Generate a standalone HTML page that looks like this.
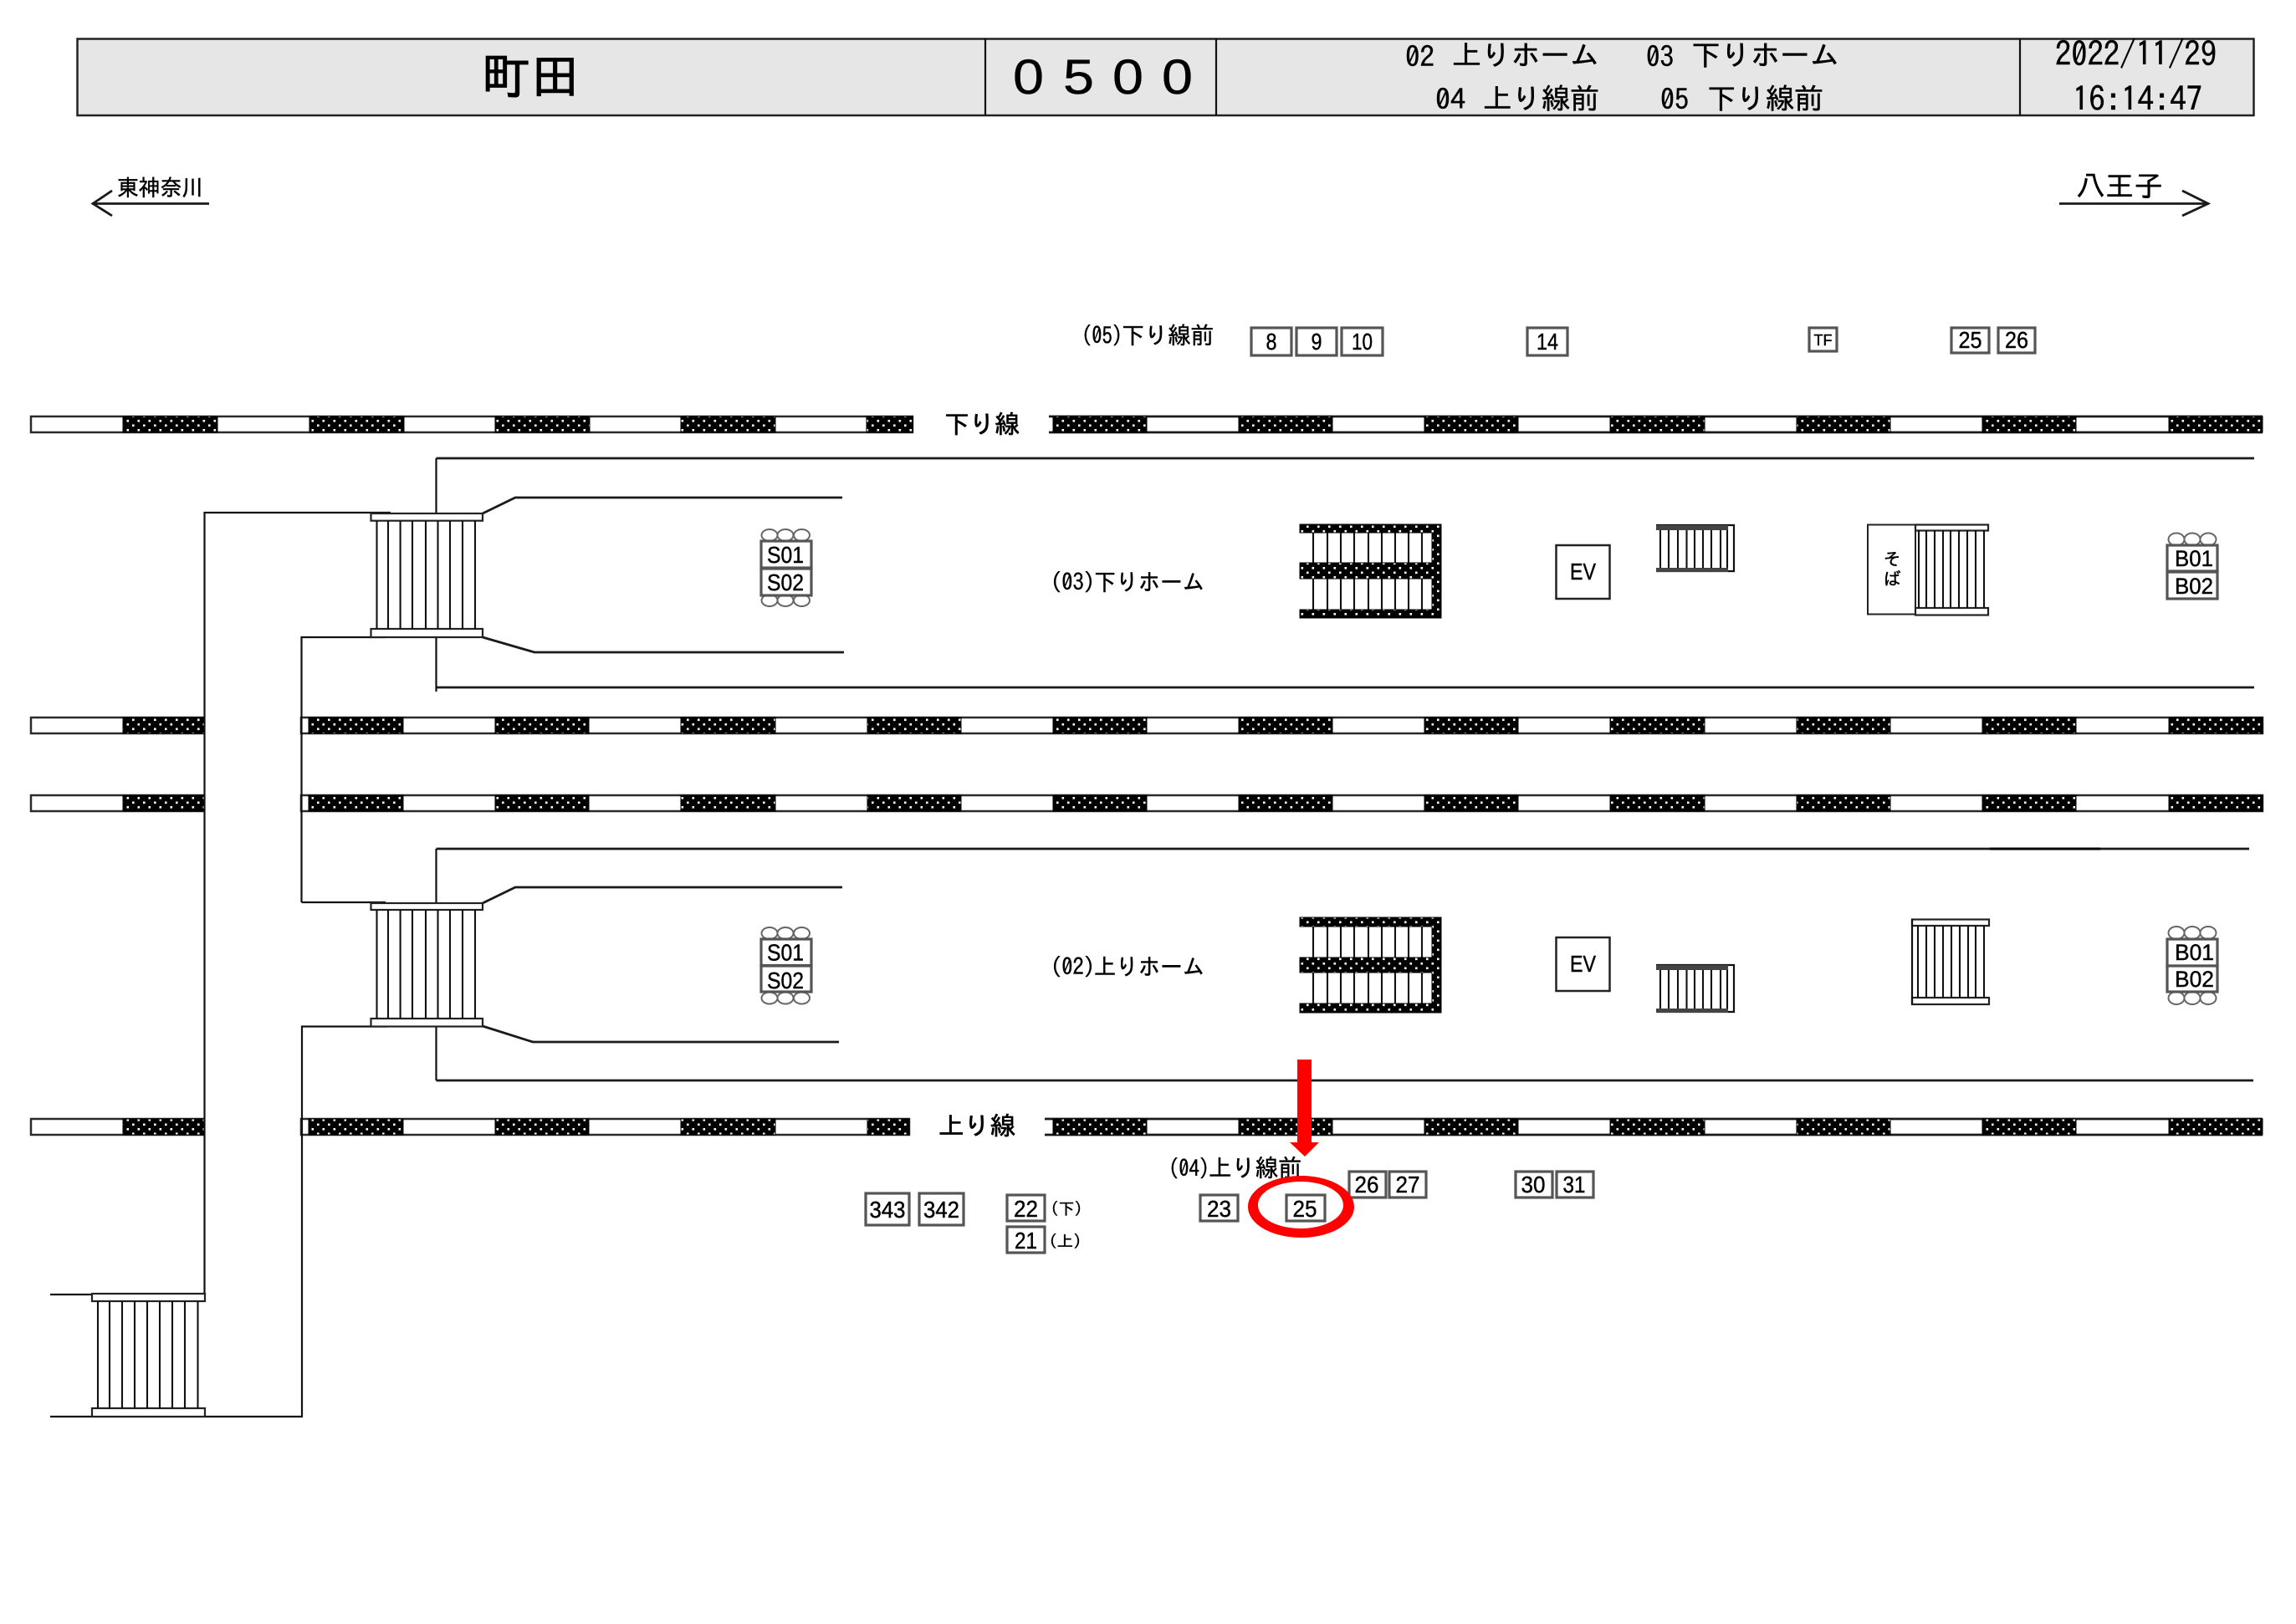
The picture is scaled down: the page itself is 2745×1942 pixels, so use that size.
<!DOCTYPE html>
<html lang="ja"><head><meta charset="utf-8"><title>町田 0500</title>
<style>
html,body{margin:0;padding:0;background:#fff}
svg{display:block}
text{font-family:"IPAGothic","Liberation Sans","Noto Sans CJK JP",sans-serif;fill:#000;stroke:#000;stroke-width:.45}
.l{font-family:"Liberation Sans","IPAGothic",sans-serif}
.m{text-anchor:middle}
.ln{fill:none;stroke:#111;stroke-width:2.2}
.th{fill:none;stroke:#1a1a1a;stroke-width:2.8}
.st{fill:none;stroke:#111;stroke-width:2.1}
.tk{fill:#fff;stroke:#2a2a2a;stroke-width:2.5}
.bx{fill:#fff;stroke:#555;stroke-width:3.2}
.c{fill:#fff;stroke:#666;stroke-width:2}
.bar{fill:#fff;stroke:#222;stroke-width:2.2}
.h{fill:url(#h);stroke:#000;stroke-width:1}
</style></head><body>
<svg xmlns="http://www.w3.org/2000/svg" width="2745" height="1942" viewBox="0 0 2745 1942">
<defs>
<pattern id="h" width="13" height="11" patternUnits="userSpaceOnUse">
<rect width="13" height="11" fill="#000"/>
<rect x="2" y="1.5" width="2.6" height="2.6" fill="#fff"/>
<rect x="8.5" y="7" width="2.6" height="2.6" fill="#fff"/>
</pattern>
</defs>
<rect width="2745" height="1942" fill="#fff"/>

<!-- header -->
<rect x="92.500" y="46.500" width="2602" height="91.500" fill="#e6e6e6" stroke="#222" stroke-width="2.500"/>
<path class="ln" d="M1178 46V138M1454 46V138M2415 46V138"/>
<text x="576" y="112" font-size="58" textLength="117" lengthAdjust="spacingAndGlyphs" style="stroke-width:1">町田</text>
<g font-size="58">
<text class="l" x="1211" y="112" textLength="37" lengthAdjust="spacingAndGlyphs">0</text>
<text class="l" x="1271" y="112" textLength="37" lengthAdjust="spacingAndGlyphs">5</text>
<text class="l" x="1330" y="112" textLength="37" lengthAdjust="spacingAndGlyphs">0</text>
<text class="l" x="1389" y="112" textLength="37" lengthAdjust="spacingAndGlyphs">0</text>
</g>
<g font-size="34">
<text x="1680" y="80" textLength="35" lengthAdjust="spacingAndGlyphs">02</text>
<text x="1736" y="78" textLength="176" lengthAdjust="spacingAndGlyphs">上りホーム</text>
<text x="1968" y="80" textLength="33" lengthAdjust="spacingAndGlyphs">03</text>
<text x="2022" y="78" textLength="177" lengthAdjust="spacingAndGlyphs">下りホーム</text>
<text x="1716" y="131" textLength="36" lengthAdjust="spacingAndGlyphs">04</text>
<text x="1773" y="130" textLength="139" lengthAdjust="spacingAndGlyphs">上り線前</text>
<text x="1985" y="131" textLength="34" lengthAdjust="spacingAndGlyphs">05</text>
<text x="2041" y="130" textLength="139" lengthAdjust="spacingAndGlyphs">下り線前</text>
</g>
<text x="2457" y="79" font-size="40" textLength="193" lengthAdjust="spacingAndGlyphs">2022/11/29</text>
<text x="2478" y="133" font-size="40" textLength="155" lengthAdjust="spacingAndGlyphs">16:14:47</text>

<!-- direction arrows -->
<path class="th" d="M250 243.500H111M134 228L111 243.500L134 258"/>
<text x="140" y="234" font-size="27" textLength="103" lengthAdjust="spacingAndGlyphs">東神奈川</text>
<path class="th" d="M2462 243.500H2640M2609 228L2640 243.500L2609 258"/>
<text x="2482" y="235" font-size="35" textLength="104" lengthAdjust="spacingAndGlyphs">八王子</text>

<!-- tracks -->
<rect class="tk" x="37" y="498" width="1054" height="19"/>
<path class="h" d="M147 498h113v19h-113zM370 498h113v19h-113zM592 498h113v19h-113zM814 498h113v19h-113zM1036 498h55v19h-55z"/>
<path class="th" d="M1254 498H2705M1254 517H2705"/>
<path class="h" d="M1259 498h112v19h-112zM1481 498h112v19h-112zM1703 498h112v19h-112zM1925 498h113v19h-113zM2148 498h112v19h-112zM2370 498h112v19h-112zM2593 498h112v19h-112z"/>

<rect class="tk" x="37" y="858" width="207" height="19"/>
<path class="h" d="M147 858h97v19h-97z"/>
<rect class="tk" x="360" y="858" width="2345" height="19"/>
<path class="h" d="M369 858h113v19h-113zM592 858h112v19h-112zM814 858h113v19h-113zM1037 858h112v19h-112zM1259 858h112v19h-112zM1481 858h112v19h-112zM1703 858h112v19h-112zM1925 858h113v19h-113zM2148 858h112v19h-112zM2370 858h112v19h-112zM2593 858h112v19h-112z"/>

<rect class="tk" x="37" y="951" width="207" height="19"/>
<path class="h" d="M147 951h97v19h-97z"/>
<rect class="tk" x="360" y="951" width="2345" height="19"/>
<path class="h" d="M369 951h113v19h-113zM592 951h112v19h-112zM814 951h113v19h-113zM1037 951h112v19h-112zM1259 951h112v19h-112zM1481 951h112v19h-112zM1703 951h112v19h-112zM1925 951h113v19h-113zM2148 951h112v19h-112zM2370 951h112v19h-112zM2593 951h112v19h-112z"/>

<rect class="tk" x="37" y="1338" width="207" height="19"/>
<path class="h" d="M147 1338h97v19h-97z"/>
<rect class="tk" x="360" y="1338" width="727" height="19"/>
<path class="h" d="M369 1338h113v19h-113zM592 1338h112v19h-112zM814 1338h113v19h-113zM1037 1338h50v19h-50z"/>
<path class="th" d="M1249 1338H2705M1249 1357H2705"/>
<path class="h" d="M1259 1338h112v19h-112zM1481 1338h112v19h-112zM1703 1338h112v19h-112zM1925 1338h113v19h-113zM2148 1338h112v19h-112zM2370 1338h112v19h-112zM2593 1338h112v19h-112z"/>

<text x="1129" y="518" font-size="30" textLength="90" lengthAdjust="spacingAndGlyphs" style="stroke-width:.7">下り線</text>
<text x="1122" y="1357" font-size="30" textLength="92" lengthAdjust="spacingAndGlyphs" style="stroke-width:.7">上り線</text>

<!-- platforms and walkways -->
<path class="th" d="M521.500 548H2695M521.500 822H2695M521.500 1015H2689M521.500 1292H2694"/>
<path d="M2379 1015H2511" stroke="#000" stroke-width="3"/>
<path class="ln" d="M521.500 548V614M521.500 762V827M521.500 1015V1080M521.500 1227V1292"/>
<path class="th" d="M577 614L616 595H1007M577 762L639 780H1009M577 1080L616 1061H1007M577 1227L637 1246H1003"/>
<path class="ln" d="M467 613H244.500V1547M360.500 1079V762H461M360.500 1079H461M463 1227.500H361V1694H60M110 1548H60"/>

<!-- bridges -->
<rect class="bar" x="443.500" y="614" width="133.500" height="8.700"/>
<rect class="bar" x="443.500" y="752" width="133.500" height="10"/>
<path class="st" d="M450.500 623V752M464 623V752M478.600 623V752M493 623V752M509 623V752M523.500 623V752M538 623V752M553 623V752M568 623V752"/>
<rect class="bar" x="443.500" y="1080" width="133.500" height="8"/>
<rect class="bar" x="443.500" y="1218" width="133.500" height="9.500"/>
<path class="st" d="M450.500 1088V1218M464 1088V1218M478.600 1088V1218M493 1088V1218M509 1088V1218M523.500 1088V1218M538 1088V1218M553 1088V1218M568 1088V1218"/>
<rect class="bar" x="110" y="1547" width="135" height="9"/>
<rect class="bar" x="110" y="1684" width="135" height="10"/>
<path class="st" d="M117 1556V1684M131 1556V1684M146 1556V1684M161 1556V1684M176 1556V1684M191 1556V1684M206 1556V1684M221 1556V1684M236.500 1556V1684"/>

<!-- S01/S02 upper -->
<ellipse class="c" cx="920" cy="640" rx="9.500" ry="7"/><ellipse class="c" cx="939" cy="640" rx="9.500" ry="7"/><ellipse class="c" cx="958.500" cy="640" rx="9.500" ry="7"/>
<ellipse class="c" cx="920" cy="718" rx="9.500" ry="7"/><ellipse class="c" cx="939" cy="718" rx="9.500" ry="7"/><ellipse class="c" cx="958.500" cy="718" rx="9.500" ry="7"/>
<rect class="bx" x="910" y="647" width="60" height="32"/><rect class="bx" x="910" y="680" width="60" height="32"/>
<text class="l" x="917" y="673" font-size="28" textLength="44" lengthAdjust="spacingAndGlyphs">S01</text>
<text class="l" x="917" y="706" font-size="28" textLength="44" lengthAdjust="spacingAndGlyphs">S02</text>
<!-- S01/S02 lower -->
<ellipse class="c" cx="920" cy="1116" rx="9.500" ry="7"/><ellipse class="c" cx="939" cy="1116" rx="9.500" ry="7"/><ellipse class="c" cx="958.500" cy="1116" rx="9.500" ry="7"/>
<ellipse class="c" cx="920" cy="1193.500" rx="9.500" ry="7"/><ellipse class="c" cx="939" cy="1193.500" rx="9.500" ry="7"/><ellipse class="c" cx="958.500" cy="1193.500" rx="9.500" ry="7"/>
<rect class="bx" x="910" y="1123" width="60" height="31.500"/><rect class="bx" x="910" y="1155" width="60" height="31"/>
<text class="l" x="917" y="1148.500" font-size="28" textLength="44" lengthAdjust="spacingAndGlyphs">S01</text>
<text class="l" x="917" y="1182" font-size="28" textLength="44" lengthAdjust="spacingAndGlyphs">S02</text>

<!-- platform names -->
<text x="1256" y="706" font-size="27" textLength="53" lengthAdjust="spacingAndGlyphs">(03)</text>
<text x="1308" y="706" font-size="28" textLength="132" lengthAdjust="spacingAndGlyphs">下りホーム</text>
<text x="1256" y="1166" font-size="27" textLength="53" lengthAdjust="spacingAndGlyphs">(02)</text>
<text x="1308" y="1166" font-size="28" textLength="132" lengthAdjust="spacingAndGlyphs">上りホーム</text>

<!-- wide stairs upper -->
<path class="st" d="M1570 637V673M1587 637V673M1603 637V673M1619 637V673M1636 637V673M1652 637V673M1668 637V673M1684 637V673M1700 637V673M1570 692V729M1587 692V729M1603 692V729M1619 692V729M1636 692V729M1652 692V729M1668 692V729M1684 692V729M1700 692V729"/>
<path class="h" d="M1554 627H1723V739H1554V729H1712V692H1554V673H1712V637H1554Z"/>
<!-- wide stairs lower -->
<path class="st" d="M1570 1108V1145M1587 1108V1145M1603 1108V1145M1619 1108V1145M1636 1108V1145M1652 1108V1145M1668 1108V1145M1684 1108V1145M1700 1108V1145M1570 1163V1200M1587 1163V1200M1603 1163V1200M1619 1163V1200M1636 1163V1200M1652 1163V1200M1668 1163V1200M1684 1163V1200M1700 1163V1200"/>
<path class="h" d="M1554 1097H1723V1211H1554V1200H1712V1163H1554V1145H1712V1108H1554Z"/>

<!-- EV -->
<rect x="1860.500" y="652" width="64" height="64" fill="#fff" stroke="#222" stroke-width="2.500"/>
<text class="l" x="1877" y="693" font-size="28" textLength="31" lengthAdjust="spacingAndGlyphs">EV</text>
<rect x="1860.500" y="1121" width="64" height="64" fill="#fff" stroke="#222" stroke-width="2.500"/>
<text class="l" x="1877" y="1162" font-size="28" textLength="31" lengthAdjust="spacingAndGlyphs">EV</text>

<!-- small stairs upper -->
<path class="st" d="M1985 630V680M1995 630V680M2006 630V680M2016.500 630V680M2026 630V680M2036 630V680M2046 630V680M2057 630V680M2065 630V680"/>
<path class="ln" d="M1980 628H2073V683H1980"/>
<rect x="1980" y="628" width="86" height="6" fill="#444"/>
<rect x="1980" y="679" width="86" height="5" fill="#444"/>
<!-- small stairs lower -->
<path class="st" d="M1985 1156V1207M1995 1156V1207M2006 1156V1207M2016.500 1156V1207M2026 1156V1207M2036 1156V1207M2046 1156V1207M2057 1156V1207M2065 1156V1207"/>
<path class="ln" d="M1980 1154H2073V1210H1980"/>
<rect x="1980" y="1154" width="86" height="6" fill="#444"/>
<rect x="1980" y="1206" width="86" height="5" fill="#444"/>

<!-- soba + stairs -->
<rect x="2233" y="627.500" width="57" height="107" fill="#fff" stroke="#222" stroke-width="2"/>
<text class="m" x="2262" y="676" font-size="21">そ</text>
<text class="m" x="2262" y="700" font-size="21">ば</text>
<rect class="bar" x="2290" y="627.500" width="87" height="7"/>
<rect class="bar" x="2290" y="727" width="87" height="8.500"/>
<path class="st" d="M2294 634V727M2303 634V727M2313 634V727M2323 634V727M2332 634V727M2342 634V727M2352 634V727M2362 634V727M2372 634V727"/>
<!-- big stair lower right -->
<rect class="bar" x="2286" y="1099.500" width="92" height="7.500"/>
<rect class="bar" x="2286" y="1193" width="92" height="8"/>
<path class="ln" d="M2286 1099V1201"/>
<path class="st" d="M2293 1107V1193M2303 1107V1193M2313 1107V1193M2323 1107V1193M2333 1107V1193M2343 1107V1193M2353 1107V1193M2362 1107V1193M2372 1107V1193"/>

<!-- B01/B02 upper -->
<ellipse class="c" cx="2602" cy="645" rx="9.500" ry="7.500"/><ellipse class="c" cx="2621" cy="645" rx="9.500" ry="7.500"/><ellipse class="c" cx="2640" cy="645" rx="9.500" ry="7.500"/>
<rect class="bx" x="2591" y="652" width="60" height="31"/><rect class="bx" x="2591" y="684" width="60" height="32"/>
<text class="l" x="2600" y="677" font-size="27" textLength="46" lengthAdjust="spacingAndGlyphs">B01</text>
<text class="l" x="2600" y="710" font-size="27" textLength="46" lengthAdjust="spacingAndGlyphs">B02</text>
<!-- B01/B02 lower -->
<ellipse class="c" cx="2602" cy="1115.500" rx="9.500" ry="7.500"/><ellipse class="c" cx="2621" cy="1115.500" rx="9.500" ry="7.500"/><ellipse class="c" cx="2640" cy="1115.500" rx="9.500" ry="7.500"/>
<ellipse class="c" cx="2602" cy="1193.500" rx="9.500" ry="7.500"/><ellipse class="c" cx="2621" cy="1193.500" rx="9.500" ry="7.500"/><ellipse class="c" cx="2640" cy="1193.500" rx="9.500" ry="7.500"/>
<rect class="bx" x="2591" y="1123" width="60" height="32"/><rect class="bx" x="2591" y="1155" width="60" height="31"/>
<text class="l" x="2600" y="1148" font-size="27" textLength="47" lengthAdjust="spacingAndGlyphs">B01</text>
<text class="l" x="2600" y="1180" font-size="27" textLength="47" lengthAdjust="spacingAndGlyphs">B02</text>

<!-- boxes top -->
<text x="1293" y="411" font-size="27" textLength="49" lengthAdjust="spacingAndGlyphs">(05)</text>
<text x="1341" y="411" font-size="28" textLength="110" lengthAdjust="spacingAndGlyphs">下り線前</text>
<rect class="bx" x="1496" y="392" width="48" height="33"/><text class="m l" x="1520" y="418" font-size="28" textLength="13" lengthAdjust="spacingAndGlyphs">8</text>
<rect class="bx" x="1550" y="392" width="48" height="33"/><text class="m l" x="1574" y="418" font-size="28" textLength="13" lengthAdjust="spacingAndGlyphs">9</text>
<rect class="bx" x="1604" y="392" width="49" height="33"/><text class="m l" x="1628.500" y="418" font-size="28" textLength="25" lengthAdjust="spacingAndGlyphs">10</text>
<rect class="bx" x="1826" y="392" width="48" height="33"/><text class="m l" x="1850" y="418" font-size="28" textLength="26" lengthAdjust="spacingAndGlyphs">14</text>
<rect class="bx" x="2163" y="392" width="33" height="28"/><text class="m l" x="2179.500" y="413" font-size="18" textLength="22" lengthAdjust="spacingAndGlyphs">TF</text>
<rect class="bx" x="2333" y="392" width="45" height="30"/><text class="m l" x="2355.500" y="416" font-size="28" textLength="28" lengthAdjust="spacingAndGlyphs">25</text>
<rect class="bx" x="2389" y="392" width="44" height="30"/><text class="m l" x="2411" y="416" font-size="28" textLength="28" lengthAdjust="spacingAndGlyphs">26</text>

<!-- boxes bottom -->
<text x="1397" y="1407" font-size="27" textLength="49" lengthAdjust="spacingAndGlyphs">(04)</text>
<text x="1445" y="1407" font-size="29" textLength="111" lengthAdjust="spacingAndGlyphs">上り線前</text>
<rect class="bx" x="1035" y="1427" width="52" height="38"/><text class="m l" x="1061" y="1456" font-size="28" textLength="43" lengthAdjust="spacingAndGlyphs">343</text>
<rect class="bx" x="1099" y="1427" width="53" height="38"/><text class="m l" x="1125.500" y="1456" font-size="28" textLength="43" lengthAdjust="spacingAndGlyphs">342</text>
<rect class="bx" x="1204" y="1429" width="45" height="31"/><text class="m l" x="1226.500" y="1455" font-size="28" textLength="29" lengthAdjust="spacingAndGlyphs">22</text>
<rect class="bx" x="1204" y="1467" width="45" height="31"/><text class="m l" x="1226.500" y="1493" font-size="28" textLength="27" lengthAdjust="spacingAndGlyphs">21</text>
<text x="1256" y="1452" font-size="19" textLength="38" lengthAdjust="spacingAndGlyphs">(下)</text>
<text x="1254" y="1491" font-size="19" textLength="39" lengthAdjust="spacingAndGlyphs">(上)</text>
<rect class="bx" x="1435" y="1429" width="45" height="31"/><text class="m l" x="1457.500" y="1455" font-size="28" textLength="29" lengthAdjust="spacingAndGlyphs">23</text>
<rect class="bx" x="1538" y="1429" width="46" height="31"/><text class="m l" x="1560" y="1455" font-size="28" textLength="29" lengthAdjust="spacingAndGlyphs">25</text>
<rect class="bx" x="1613" y="1401" width="44" height="31"/><text class="m l" x="1634" y="1426" font-size="28" textLength="29" lengthAdjust="spacingAndGlyphs">26</text>
<rect class="bx" x="1661" y="1401" width="44" height="31"/><text class="m l" x="1683" y="1426" font-size="28" textLength="29" lengthAdjust="spacingAndGlyphs">27</text>
<rect class="bx" x="1812" y="1401" width="44" height="31"/><text class="m l" x="1833" y="1426" font-size="28" textLength="29" lengthAdjust="spacingAndGlyphs">30</text>
<rect class="bx" x="1861" y="1401" width="44" height="31"/><text class="m l" x="1882" y="1426" font-size="28" textLength="27" lengthAdjust="spacingAndGlyphs">31</text>

<!-- red marks -->
<path d="M1555.500 1406C1590 1406 1619 1422 1619 1443C1619 1464 1590 1480 1555.500 1480C1521 1480 1492 1464 1492 1443C1492 1422 1521 1406 1555.500 1406ZM1555 1413C1527 1413 1504 1425 1504 1441C1504 1457 1527 1469 1555 1469C1583 1469 1606 1457 1606 1441C1606 1425 1583 1413 1555 1413Z" fill="#f00" fill-rule="evenodd"/>
<path d="M1551 1267H1568V1366H1577L1560 1383L1542 1366H1551Z" fill="#f00"/>
</svg>
</body></html>
